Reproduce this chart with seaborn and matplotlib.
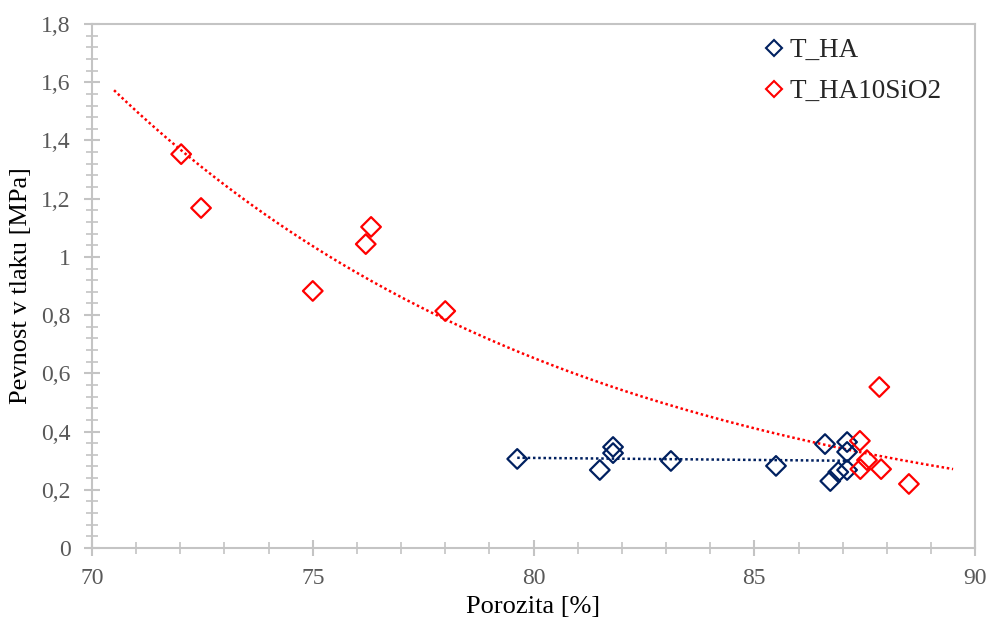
import numpy as np
import pandas as pd
import matplotlib
matplotlib.use("Agg")
import matplotlib.pyplot as plt
from matplotlib.ticker import MultipleLocator, FuncFormatter
from matplotlib.lines import Line2D
import seaborn as sns

# ---- data ----
ha_x = [79.63, 81.50, 81.80, 81.80, 83.11, 85.49, 86.60, 87.10, 87.10, 87.10, 86.90, 86.72]
ha_y = [0.306, 0.268, 0.347, 0.326, 0.299, 0.282, 0.357, 0.364, 0.330, 0.268, 0.261, 0.230]
si_x = [72.02, 72.47, 75.00, 76.20, 76.32, 78.00, 87.83, 87.39, 87.55, 87.40, 87.87, 88.50]
si_y = [1.353, 1.168, 0.883, 1.044, 1.103, 0.814, 0.553, 0.368, 0.302, 0.271, 0.271, 0.220]
series_names = ["T_HA", "T_HA10SiO2"]
colors = ["#002060", "#FF0000"]
x_ticks = [70, 75, 80, 85, 90]
y_ticks = [0, 0.2, 0.4, 0.6, 0.8, 1.0, 1.2, 1.4, 1.6, 1.8]
exp_trend_range = [70.5, 89.5]

df = pd.DataFrame({
    "x": ha_x + si_x,
    "y": ha_y + si_y,
    "s": [series_names[0]] * len(ha_x) + [series_names[1]] * len(si_x),
})

sns.set_style("white")
plt.rcParams["font.family"] = ["Liberation Serif", "DejaVu Serif"]

fig = plt.figure(figsize=(9.9, 6.19), dpi=100)
ax = fig.add_axes([0.0929, 0.1147, 0.8921, 0.8465])

dot = (0, (1, 1.1))
# linear trendline for T_HA
p = np.polyfit(ha_x, ha_y, 1)
lx = np.linspace(min(ha_x), max(ha_x), 50)
ax.plot(lx, np.polyval(p, lx), ls=dot, color=colors[0], lw=1.8, zorder=1)
# exponential trendline for T_HA10SiO2
q = np.polyfit(si_x, np.log(si_y), 1)
ex = np.linspace(exp_trend_range[0], exp_trend_range[1], 200)
ax.plot(ex, np.exp(np.polyval(q, ex)), ls=dot, color=colors[1], lw=1.8, zorder=1)

sns.scatterplot(data=df, x="x", y="y", hue="s", palette=colors, marker="D",
                s=100, linewidth=1.6, ax=ax, zorder=3, legend=False)
for coll in ax.collections:
    fc = coll.get_facecolors()
    coll.set_edgecolors(fc)
    coll.set_facecolors("none")

handles = [Line2D([], [], marker="D", ls="none", markerfacecolor="none",
                  markeredgecolor=c, markeredgewidth=1.5, markersize=8)
           for c in colors]
ax.legend(handles, series_names, loc="upper left",
          bbox_to_anchor=(765 / 990, 1 - 38 / 619), bbox_transform=fig.transFigure,
          borderaxespad=0, borderpad=0, frameon=False, fontsize=19.5,
          handletextpad=0.2, labelspacing=0.6, handlelength=0.7)

ax.set_xlim(70, 90)
ax.set_ylim(0, 1.8)
ax.set_xticks(x_ticks)
ax.set_yticks(y_ticks)
ax.xaxis.set_minor_locator(MultipleLocator(1))
ax.yaxis.set_minor_locator(MultipleLocator(0.04))
ax.yaxis.set_major_formatter(FuncFormatter(lambda v, pos: ("%g" % round(v, 2)).replace(".", ",")))

spine_c = "#C4C4C4"
for sp in ax.spines.values():
    sp.set_color(spine_c)
    sp.set_linewidth(1.5)
ax.tick_params(axis="both", which="major", direction="inout", length=11, width=1.5,
               color=spine_c, labelcolor="#595959", labelsize=17)
ax.tick_params(axis="both", which="minor", direction="inout", length=8, width=1.2,
               color=spine_c)
ax.tick_params(axis="x", which="both", bottom=True, top=False, pad=9)
ax.tick_params(axis="y", which="both", left=True, right=False, pad=10)

ax.set_xlabel("Porozita [%]", fontsize=19, color="black", labelpad=5)
ax.set_ylabel("Pevnost v tlaku [MPa]", fontsize=19, color="black", labelpad=6)

fig.savefig("out.png", dpi=100)
